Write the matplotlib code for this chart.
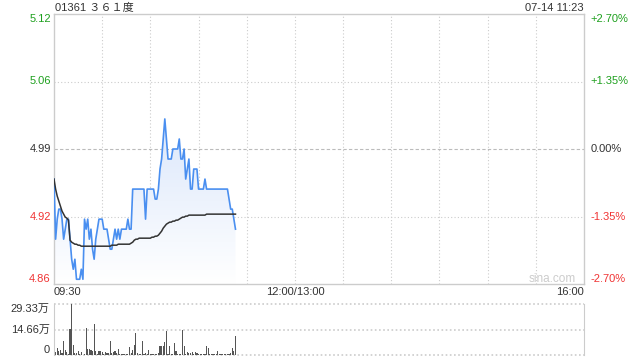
import matplotlib
matplotlib.use('Agg')
import matplotlib.pyplot as plt
import numpy as np

plt.rcParams['font.family'] = ['Liberation Sans', 'Noto Sans CJK SC', 'DejaVu Sans']

title = '01361 ３６１度'
stamp = '07-14 11:23'
prev_close = 4.99
pct_ticks = [2.70, 1.35, 0.00, -1.35, -2.70]
time_labels = ['09:30', '12:00/13:00', '16:00']
time_pos = [0, 150, 330]

# minute-by-minute price from 09:30 (minute 0) to 11:23 (minute 113)
price = [4.96, 4.90, 4.92, 4.93, 4.93, 4.92, 4.90, 4.91, 4.92, 4.92,
         4.90, 4.88, 4.87, 4.88, 4.86, 4.86, 4.86, 4.87, 4.86, 4.92,
         4.91, 4.92, 4.90, 4.91, 4.89, 4.88, 4.90, 4.91, 4.92, 4.92,
         4.92, 4.91, 4.91, 4.91, 4.90, 4.89, 4.89, 4.90, 4.91, 4.90,
         4.91, 4.90, 4.91, 4.91, 4.91, 4.91, 4.92, 4.91, 4.91, 4.95,
         4.95, 4.95, 4.95, 4.95, 4.95, 4.95, 4.95, 4.92, 4.95, 4.95,
         4.95, 4.95, 4.95, 4.94, 4.94, 4.95, 4.97, 4.98, 5.00, 5.02,
         5.00, 4.98, 4.98, 4.98, 4.99, 4.99, 4.99, 4.99, 5.00, 4.98,
         4.98, 4.99, 4.96, 4.97, 4.98, 4.95, 4.95, 4.97, 4.97, 4.97,
         4.95, 4.95, 4.95, 4.95, 4.96, 4.95, 4.95, 4.95, 4.95, 4.95,
         4.95, 4.95, 4.95, 4.95, 4.95, 4.95, 4.95, 4.95, 4.95, 4.94,
         4.93, 4.93, 4.92, 4.91]

avg_price = [4.960, 4.950, 4.943, 4.938, 4.933, 4.928, 4.925, 4.922, 4.921, 4.919,
             4.899, 4.897, 4.896, 4.895, 4.895, 4.894, 4.894, 4.893, 4.893, 4.893,
             4.893, 4.893, 4.893, 4.893, 4.893, 4.893, 4.893, 4.893, 4.893, 4.893,
             4.893, 4.893, 4.893, 4.893, 4.893, 4.893, 4.894, 4.894, 4.894, 4.894,
             4.895, 4.895, 4.895, 4.895, 4.895, 4.895, 4.895, 4.895, 4.896, 4.897,
             4.899, 4.900, 4.900, 4.901, 4.901, 4.901, 4.901, 4.901, 4.901, 4.901,
             4.901, 4.902, 4.902, 4.903, 4.903, 4.904, 4.906, 4.908, 4.911, 4.913,
             4.915, 4.916, 4.917, 4.917, 4.918, 4.918, 4.919, 4.919, 4.920, 4.921,
             4.922, 4.922, 4.923, 4.923, 4.924, 4.924, 4.924, 4.924, 4.924, 4.924,
             4.924, 4.924, 4.924, 4.924, 4.924, 4.925, 4.925, 4.925, 4.925, 4.925,
             4.925, 4.925, 4.925, 4.925, 4.925, 4.925, 4.925, 4.925, 4.925, 4.925,
             4.925, 4.925, 4.925, 4.925]

# volume per minute, in 万 shares
volume = [6.4, 1.5, 4.0, 2.5, 2.9, 1.0, 8.3, 2.9, 1.7, 0.6,
          15.0, 29.3, 6.0, 1.2, 1.2, 2.1, 0.8, 1.5, 0.2, 0.5,
          15.6, 3.7, 3.5, 3.1, 2.1, 17.6, 2.1, 0.6, 2.5, 2.5,
          1.7, 0.5, 1.7, 1.2, 1.2, 8.3, 1.2, 1.7, 2.1, 1.2,
          3.7, 0.8, 0.6, 0.6, 0.6, 0.6, 0.6, 4.6, 1.2, 3.1,
          6.0, 12.4, 1.2, 0.6, 0.6, 7.9, 0.6, 1.2, 0.6, 3.1,
          0.6, 0.6, 0.6, 0.6, 0.6, 1.2, 5.4, 5.4, 5.4, 7.5,
          13.7, 0.6, 5.4, 0.6, 0.6, 6.9, 2.5, 0.6, 0.6, 0.6,
          14.3, 5.4, 0.6, 1.7, 1.2, 1.2, 1.7, 0.6, 1.7, 1.2,
          0.6, 0.6, 0.6, 0.6, 0.6, 5.4, 4.0, 0.6, 0.6, 0.6,
          0.6, 0.6, 2.5, 0.6, 0.6, 0.6, 0.6, 0.6, 0.6, 0.6,
          1.2, 4.0, 2.5, 11.2]
vol_ticks = [29.33, 14.66, 0]
vol_labels = ['29.33万', '14.66万', '0']

GREEN = '#1ea01e'
RED = '#f03434'
DARK = '#333333'
GRID = '#cccccc'

minutes = np.arange(len(price))
lo = prev_close * (1 + pct_ticks[-1] / 100)
hi = prev_close * (1 + pct_ticks[0] / 100)

fig = plt.figure(figsize=(6.4, 3.6), dpi=100)
ax = fig.add_axes([54/640, 76/360, 530/640, 270/360])
axv = fig.add_axes([54/640, 5/360, 530/640, 51/360])

ax.set_xlim(0, 330)
ax.set_ylim(lo, hi)
ax.set_xticks([])
ax.set_yticks([])
for s in ax.spines.values():
    s.set_color(GRID)
    s.set_linewidth(1)

for t in range(30, 330, 30):
    ax.axvline(t, color=GRID, lw=0.8, ls=(0, (1, 2)), zorder=0)
for p in pct_ticks[1:-1]:
    yv = prev_close * (1 + p / 100)
    if p == 0:
        ax.axhline(yv, color='#bbbbbb', lw=0.8, ls=(0, (3, 2)), zorder=0)
    else:
        ax.axhline(yv, color=GRID, lw=0.8, ls=(0, (1, 2)), zorder=0)

# gradient fill below price line
poly = ax.fill_between(minutes, price, lo, facecolor='none', edgecolor='none')
grad = np.linspace(0, 1, 256).reshape(-1, 1)
cmap = matplotlib.colors.LinearSegmentedColormap.from_list('g', ['#ffffff', '#dbe7fb'])
img = ax.imshow(grad, cmap=cmap, aspect='auto', origin='lower',
                extent=[0, minutes[-1], lo, max(price)], zorder=1)
img.set_clip_path(poly.get_paths()[0], transform=ax.transData)
ax.set_xlim(0, 330)
ax.set_ylim(lo, hi)

ax.plot(minutes, price, color='#4a8ff0', lw=1.2, zorder=3)
ax.plot(minutes, avg_price, color=DARK, lw=1.1, zorder=4)

# price / percent labels
for i, p in enumerate(pct_ticks):
    yv = prev_close * (1 + p / 100)
    col = GREEN if p > 0 else (RED if p < 0 else DARK)
    va = 'top' if i == 0 else ('bottom' if i == len(pct_ticks) - 1 else 'center')
    ax.text(-0.006, yv, f'{yv:.2f}', transform=ax.get_yaxis_transform(),
            ha='right', va=va, color=col, fontsize=8)
    sign = '+' if p > 0 else ''
    ax.text(1.012, yv, f'{sign}{p:.2f}%', transform=ax.get_yaxis_transform(),
            ha='left', va=va, color=col, fontsize=8)

for lab, pos in zip(time_labels, time_pos):
    ha = 'left' if pos == 0 else ('right' if pos == 330 else 'center')
    ax.text(pos, -0.03, lab, transform=ax.get_xaxis_transform(),
            ha=ha, va='center', color=DARK, fontsize=8)

ax.text(0.94, 0.018, 'sina.com', transform=ax.transAxes, ha='center', va='center',
        color='#cccccc', fontsize=8.5, zorder=5)

fig.text(55/640, 1 - 8/360, title, ha='left', va='center', color=DARK, fontsize=8)
fig.text(584/640, 1 - 8/360, stamp, ha='right', va='center', color=DARK, fontsize=8)

# volume panel
axv.set_xlim(0, 330)
axv.set_ylim(0, vol_ticks[0])
axv.set_xticks([])
axv.set_yticks([])
for k in ['top', 'bottom']:
    axv.spines[k].set_visible(False)
for k in ['left', 'right']:
    axv.spines[k].set_color(GRID)
for v in vol_ticks:
    axv.axhline(v, color=GRID, lw=1.2, ls=(0, (1, 1.5)), clip_on=False, zorder=0)
axv.bar(minutes, volume, width=0.7, color='#555555', zorder=2)
for i, (v, lab) in enumerate(zip(vol_ticks, vol_labels)):
    va = 'top' if i == 0 else ('bottom' if i == len(vol_ticks) - 1 else 'center')
    axv.text(-0.008, v, lab, transform=axv.get_yaxis_transform(),
             ha='right', va=va, color=DARK, fontsize=8)

fig.savefig('out.png', dpi=100)
